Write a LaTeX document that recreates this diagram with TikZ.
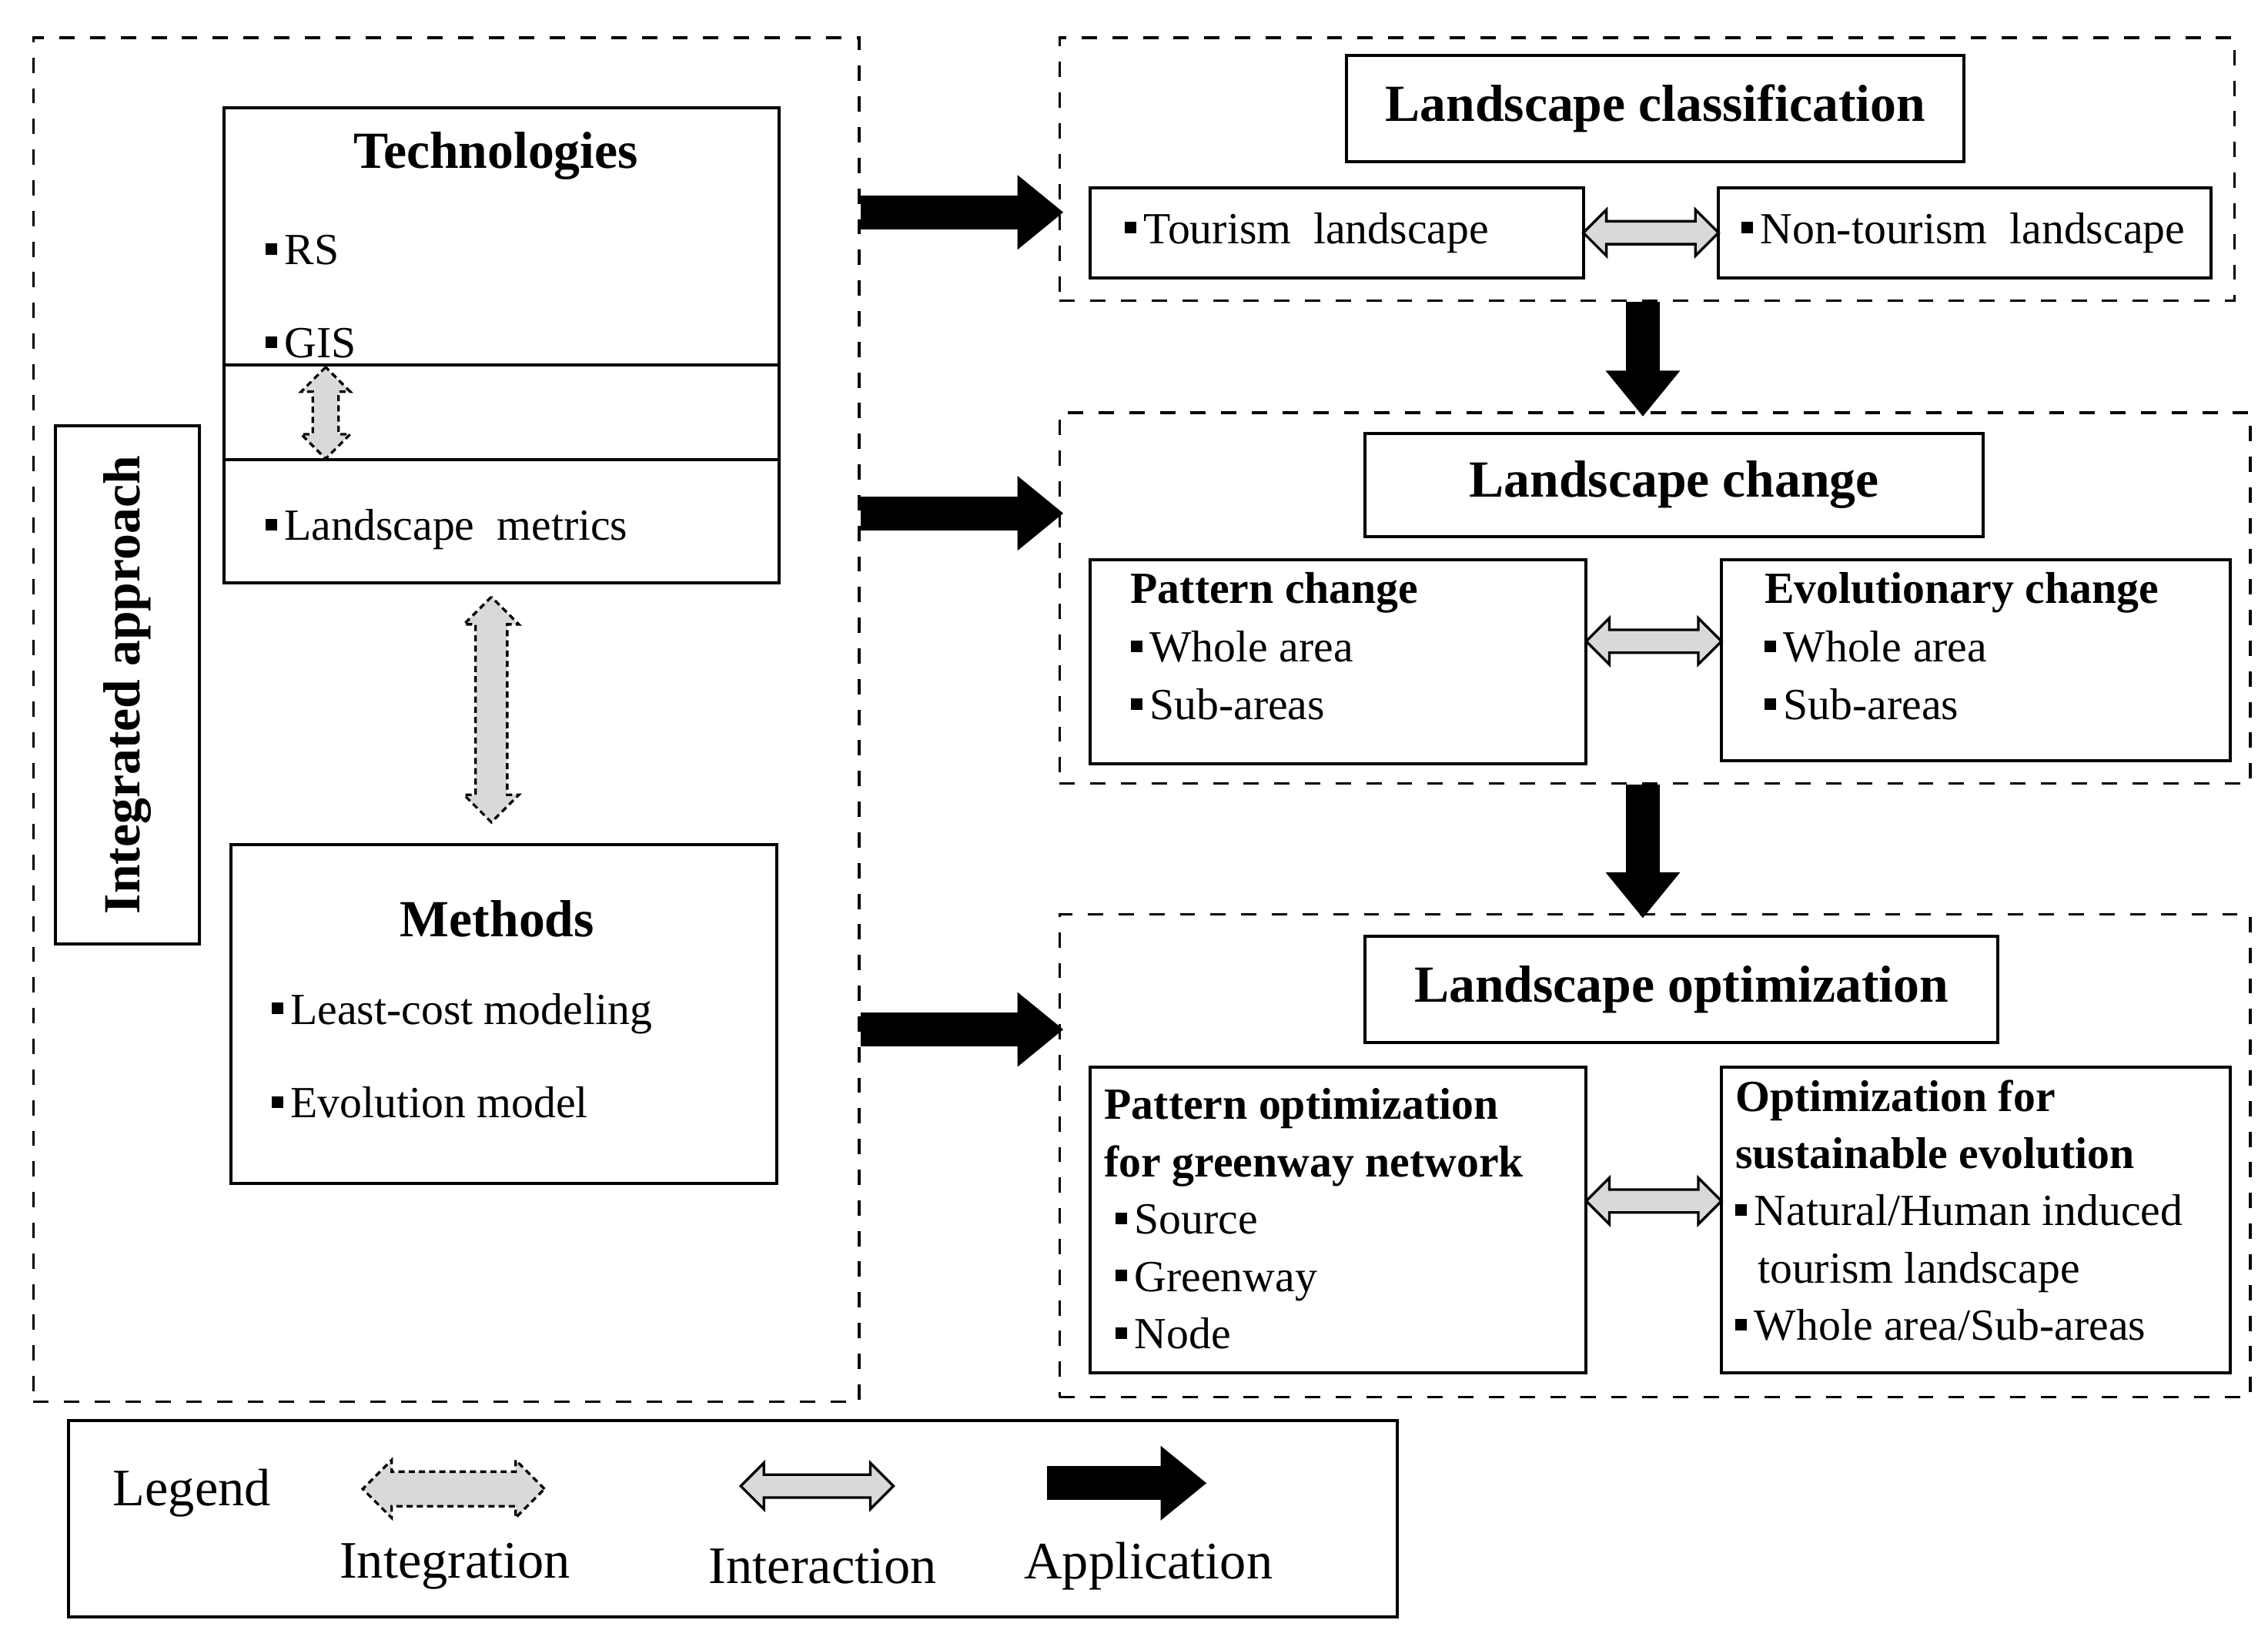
\documentclass[tikz,border=0pt]{standalone}
\usepackage{fontspec}
\setmainfont{Liberation Serif}
\usetikzlibrary{positioning}
\usetikzlibrary{shapes.arrows}
\usetikzlibrary{arrows.meta}

\newcommand{\sqb}{\rule[0.22em]{0.26em}{0.26em}\,}

\begin{document}
\begin{tikzpicture}[x=0.1mm, y=-0.1mm]

  \tikzstyle{frame}=[draw, dashed, line width=0.5pt, anchor=north west, inner sep=0pt]
  \tikzstyle{box}=[draw, line width=0.6pt, anchor=north west, inner sep=0pt]
  \tikzstyle{head}=[font=\bfseries\fontsize{10.2}{12}\selectfont]
  \tikzstyle{body}=[font=\fontsize{8.7}{11.4}\selectfont, anchor=north west, align=left, inner sep=0pt]
  \tikzstyle{sub}=[font=\fontsize{8.7}{11.6}\selectfont, anchor=north west, align=left, inner sep=0pt]
  \tikzstyle{apply}=[line width=6.6pt, -{Triangle[width=14pt, length=9pt]}, shorten >=-1pt]
  \tikzstyle{interact}=[double arrow, draw, fill=gray!30, line width=0.5pt, inner xsep=0pt, inner ysep=0.7mm, double arrow head extend=0.8mm]
  \tikzstyle{integrate}=[double arrow, draw, dashed, dash pattern=on 1.2pt off 0.8pt, fill=gray!30, line width=0.5pt, inner xsep=0pt, inner ysep=1mm, double arrow head extend=0.8mm]

  \useasboundingbox (0,0) rectangle (1560,1121);

  % left part
  \node[frame, minimum width=56.8mm, minimum height=93.8mm] (left) at (22,25) {};
  \node[box, minimum width=38.2mm, minimum height=32.7mm] (tech) at (153,73) {};
  \draw[line width=0.6pt] (tech.west |- 0,251) -- (tech.east |- 0,251);
  \draw[line width=0.6pt] (tech.west |- 0,316) -- (tech.east |- 0,316);
  \node[head] (techT) at (341,107) {Technologies};
  \node[sub, anchor=west] (rs) at (182,172) {\sqb RS};
  \node[sub, anchor=west] (gis) at (182,236) {\sqb GIS};
  \node[sub, anchor=west] (metrics) at (182,364) {\sqb Landscape\ \ metrics};

  \node[box, minimum width=37.5mm, minimum height=23.3mm] (meth) at (158,580) {};
  \node[head] (methT) at (342,632) {Methods};
  \node[sub, anchor=west] (lcm) at (186,697) {\sqb Least-cost modeling};
  \node[sub, anchor=west] (evo) at (186,758) {\sqb Evolution model};

  \node[box, minimum width=9.9mm, minimum height=35.6mm] (integ) at (37,292) {};
  \node[head, rotate=90] at (integ.center) {Integrated approach};

  \node[integrate, rotate=90, minimum height=6.3mm, inner ysep=0.8mm, double arrow head extend=0.8mm] (i1) at (224,284) {};
  \node[integrate, rotate=90, minimum height=15.5mm] (i2) at (338,488) {};

  % right part
  \node[frame, minimum width=80.8mm, minimum height=18.1mm] (cls) at (728,25) {};
  \node[box, minimum width=42.5mm, minimum height=7.3mm, head] (clsT) at (925,37) {};
  \node[head] at (clsT.center) {Landscape classification};
  \node[box, minimum width=33.9mm, minimum height=6.2mm] (tour) at (749,128) {};
  \node[sub, anchor=west] at (773,160) {\sqb Tourism\ \ landscape};
  \node[box, minimum width=33.9mm, minimum height=6.2mm] (non) at (1181,128) {};
  \node[sub, anchor=west] at (1197,160) {\sqb Non-tourism\ \ landscape};
  \path (tour.east) -- node[interact, minimum height=9.3mm] {} (non.west);

  \node[frame, minimum width=81.9mm, minimum height=25.5mm] (chg) at (728,283) {};
  \node[box, minimum width=42.5mm, minimum height=7.1mm] (chgT) at (938,297) {};
  \node[head] at (chgT.center) {Landscape change};
  \node[box, minimum width=34.1mm, minimum height=14mm] (pat) at (749,384) {};
  \node[body] at (777,393) {\textbf{Pattern change}\\ \sqb Whole area\\ \sqb Sub-areas};
  \node[box, minimum width=35mm, minimum height=13.8mm] (evol) at (1183,384) {};
  \node[body] at (1213,393) {\textbf{Evolutionary change}\\ \sqb Whole area\\ \sqb Sub-areas};
  \path (pat.east |- 0,441) -- node[interact, minimum height=9.3mm] {} (evol.west |- 0,441);

  \node[frame, minimum width=81.9mm, minimum height=33.2mm] (opt) at (728,628) {};
  \node[box, minimum width=43.5mm, minimum height=7.3mm] (optT) at (938,643) {};
  \node[head] at (optT.center) {Landscape optimization};
  \node[box, minimum width=34.1mm, minimum height=21mm] (popt) at (749,733) {};
  \node[body, font=\fontsize{8.7}{11.2}\selectfont] at (759,748) {\textbf{Pattern optimization}\\ \textbf{for greenway network}\\ \ \sqb Source\\ \ \sqb Greenway\\ \ \sqb Node};
  \node[box, minimum width=35mm, minimum height=21mm] (sopt) at (1183,733) {};
  \node[body, font=\fontsize{8.7}{11.2}\selectfont] at (1193,742) {\textbf{Optimization for}\\ \textbf{sustainable evolution}\\ \sqb Natural/Human induced\\ \ \ tourism landscape\\ \sqb Whole area/Sub-areas};
  \path (popt.east |- 0,826) -- node[interact, minimum height=9.3mm] {} (sopt.west |- 0,826);

  % connectors
  \draw[apply] (left.east |- 0,146) -- (cls.west |- 0,146);
  \draw[apply] (left.east |- 0,353) -- (chg.west |- 0,353);
  \draw[apply] (left.east |- 0,708) -- (opt.west |- 0,708);
  \draw[apply] (cls.south -| 1130,0) -- (chg.north -| 1130,0);
  \draw[apply] (chg.south -| 1130,0) -- (opt.north -| 1130,0);

  % legend
  \node[box, minimum width=91.4mm, minimum height=13.5mm] (leg) at (46,976) {};
  \node[font=\fontsize{10.3}{12}\selectfont] at (132,1027) {Legend};
  \node[integrate, minimum height=12.5mm, inner ysep=1.1mm] (lg1) at (312,1024) {};
  \node[interact, minimum height=10.5mm] (lg2) at (562,1022) {};
  \coordinate (lg3a) at (720,1020);
  \coordinate (lg3b) at (830,1020);
  \draw[apply, shorten >=0pt] (lg3a) -- (lg3b);
  \node[font=\fontsize{10.3}{12}\selectfont] at (313,1077) {Integration};
  \node[font=\fontsize{10.3}{12}\selectfont] at (566,1077) {Interaction};
  \node[font=\fontsize{10.3}{12}\selectfont] at (790,1077) {Application};

\end{tikzpicture}
\end{document}
